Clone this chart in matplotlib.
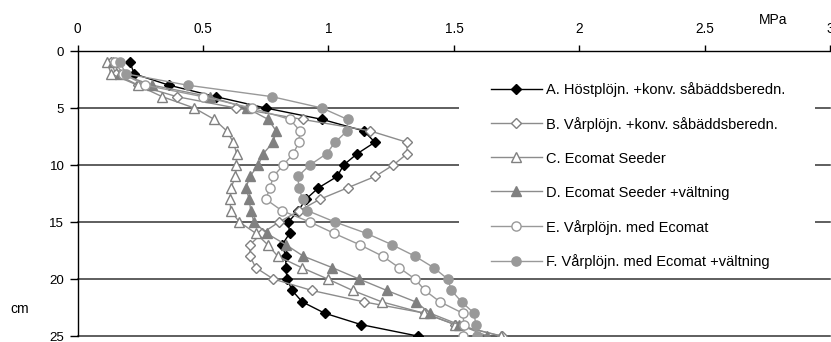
import matplotlib
matplotlib.use("Agg")
import matplotlib.pyplot as plt
from matplotlib.patches import Rectangle

plt.rcParams["font.family"] = ["Liberation Sans", "DejaVu Sans"]

# Penetration resistance (MPa) per depth (cm), one list per treatment
depth = list(range(1, 26))

a_hostplojn = [0.21, 0.225, 0.365, 0.55, 0.75, 0.975, 1.14, 1.185, 1.115, 1.06,
               1.035, 0.96, 0.91, 0.88, 0.84, 0.845, 0.815, 0.83, 0.83, 0.835,
               0.855, 0.895, 0.985, 1.13, 1.355]
b_varplojn = [0.134, 0.152, 0.242, 0.395, 0.631, 0.897, 1.165, 1.312, 1.314, 1.258,
              1.186, 1.076, 0.966, 0.884, 0.803, 0.734, 0.687, 0.687, 0.71, 0.78,
              0.933, 1.14, 1.384, 1.504, 1.69]
c_ecomat = [0.119, 0.133, 0.24, 0.337, 0.465, 0.545, 0.594, 0.621, 0.634, 0.633,
            0.629, 0.612, 0.608, 0.61, 0.645, 0.711, 0.758, 0.798, 0.893, 0.997,
            1.096, 1.212, 1.38, 1.505, 1.686]
d_ecomat_valt = [0.14, 0.17, 0.298, 0.526, 0.674, 0.76, 0.791, 0.78, 0.74, 0.72,
                 0.687, 0.671, 0.684, 0.69, 0.703, 0.754, 0.831, 0.9, 1.015, 1.122,
                 1.232, 1.347, 1.405, 1.52, 1.633]
e_varplojn_ecomat = [0.15, 0.18, 0.27, 0.498, 0.694, 0.847, 0.886, 0.882, 0.86, 0.82,
                     0.78, 0.767, 0.75, 0.814, 0.926, 1.023, 1.125, 1.216, 1.281, 1.345,
                     1.384, 1.444, 1.535, 1.54, 1.537]
f_varplojn_ecomat_valt = [0.169, 0.193, 0.439, 0.774, 0.974, 1.076, 1.075, 1.026, 0.993, 0.926,
                          0.878, 0.882, 0.897, 0.916, 1.026, 1.152, 1.254, 1.345, 1.419, 1.475,
                          1.49, 1.53, 1.58, 1.587, 1.592]

labels = [
    "A. Höstplöjn. +konv. såbäddsberedn.",
    "B. Vårplöjn. +konv. såbäddsberedn.",
    "C. Ecomat Seeder",
    "D. Ecomat Seeder +vältning",
    "E. Vårplöjn. med Ecomat",
    "F. Vårplöjn. med Ecomat +vältning",
]
x_ticks = [0, 0.5, 1, 1.5, 2, 2.5, 3]
x_ticklabels = ["0", "0.5", "1", "1.5", "2", "2.5", "3"]
y_ticks = [0, 5, 10, 15, 20, 25]

series = [a_hostplojn, b_varplojn, c_ecomat, d_ecomat_valt,
          e_varplojn_ecomat, f_varplojn_ecomat_valt]
styles = [
    dict(color="black", marker="D", ms=4.9, mfc="black", mec="black"),
    dict(color="#8c8c8c", marker="D", ms=4.9, mfc="white", mec="#808080"),
    dict(color="#8c8c8c", marker="^", ms=7.2, mfc="white", mec="#808080"),
    dict(color="#8c8c8c", marker="^", ms=7.2, mfc="#808080", mec="#808080"),
    dict(color="#999999", marker="o", ms=6.6, mfc="white", mec="#999999"),
    dict(color="#999999", marker="o", ms=6.6, mfc="#999999", mec="#999999"),
]

fig = plt.figure(figsize=(8.31, 3.42), dpi=100)
ax = fig.add_axes([0.0933, 0.0175, 0.906, 0.8333])

for values, label, st in zip(series, labels, styles):
    ax.plot(values, depth, label=label, lw=1, mew=1, zorder=3, **st)

ax.set_xlim(0, 3)
ax.set_ylim(25, 0)
ax.xaxis.tick_top()
ax.set_xticks(x_ticks)
ax.set_xticklabels(x_ticklabels)
ax.set_yticks(y_ticks)
ax.tick_params(axis="x", direction="out", length=4, width=1, pad=6.5, labelsize=9.8)
ax.tick_params(axis="y", direction="out", length=6, width=1, pad=3.5, labelsize=9.6)

for s in ["right", "bottom"]:
    ax.spines[s].set_visible(False)
ax.spines["top"].set_linewidth(1)
ax.spines["left"].set_linewidth(1)

for yv in y_ticks[1:]:
    ax.axhline(yv, color="#333333", lw=1.1, zorder=1, clip_on=False)

# white panel behind the legend hides the gridlines there
ax.add_patch(Rectangle((0.5066, 0.2105), 0.4724, 0.72, transform=ax.transAxes,
                       facecolor="white", edgecolor="none", zorder=2))

leg = ax.legend(loc="center left", bbox_to_anchor=(0.549, 0.563), frameon=False,
                fontsize=10.5, handlelength=3.5, handletextpad=0.3,
                labelspacing=1.37, borderpad=0, borderaxespad=0)
leg.set_zorder(4)

fig.text(773 / 831, 1 - 20 / 342, "MPa", ha="center", va="center", fontsize=10)
fig.text(20 / 831, 1 - 309 / 342, "cm", ha="center", va="center", fontsize=10)

fig.savefig("out.png", dpi=100)
